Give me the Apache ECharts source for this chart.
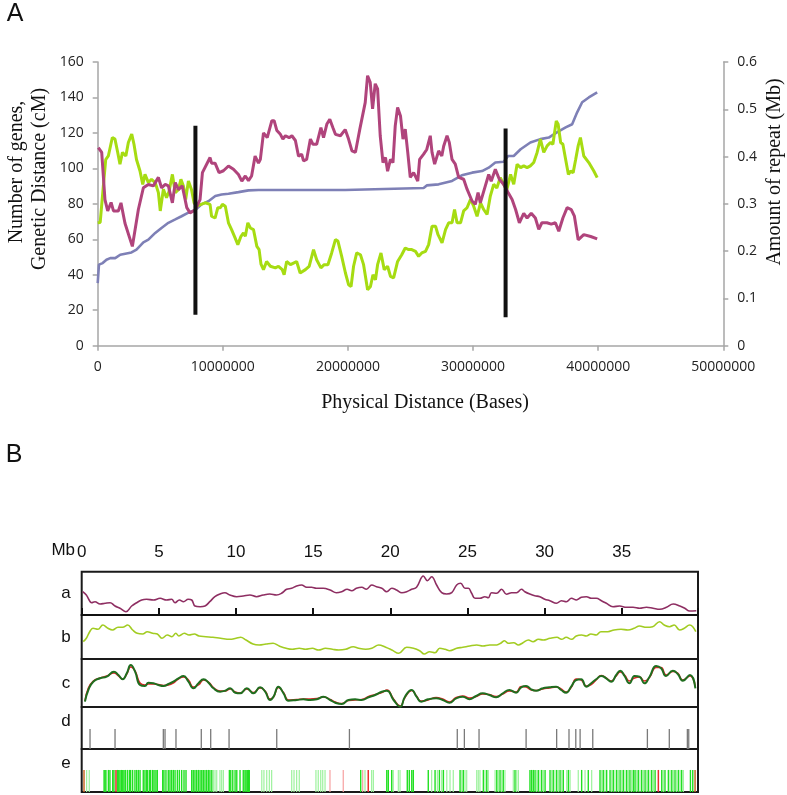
<!DOCTYPE html>
<html><head><meta charset="utf-8">
<script src="https://cdn.jsdelivr.net/npm/echarts@6/dist/echarts.min.js"></script>
<style>html,body{margin:0;padding:0;background:#fff}#c{width:787px;height:795px}</style>
</head><body><div id="c"></div>
<script>
// ---------- Panel A data (x in Mb of physical distance) ----------
const physTickLabels = ['0','10000000','20000000','30000000','40000000','50000000'];
const leftTickMax = 160, rightTickMax = 0.6;
const geneticDistance = [[0,35.3],[0.1,45.7],[0.4,46.6],[0.7,48.5],[1.0,49.4],[1.4,49.4],[1.8,51.3],[2.2,51.9],[2.7,52.6],[3.1,54.2],[3.65,58.3],[4.05,59.8],[4.6,63.6],[5.1,66.4],[5.65,69.3],[6.2,71.2],[6.7,73],[7.25,75],[7.8,76.5],[8.3,79.7],[8.85,81.5],[9.4,84.4],[9.9,85.3],[10.45,85.7],[11.25,86.6],[12.05,87.6],[12.85,87.8],[19.78,87.8],[19.85,88.9],[26.05,88.9],[26.3,90.4],[27.25,91],[28.32,92.9],[29.1,96.1],[29.92,97.6],[30.72,98.5],[31.25,100.4],[31.78,103.3],[32.45,103.7],[32.8,107],[33.25,107],[33.8,110.8],[34.58,114.6],[35.38,116.5],[36.05,117.4],[36.7,120.3],[37.4,123.1],[37.92,124.9],[38.32,131.6],[38.72,137.3],[39.25,140],[39.92,142.9]];
const geneCount = [[0,69.3],[0.2,69.5],[0.45,90],[0.64,105],[0.85,107],[1.0,108],[1.17,117.4],[1.38,116.5],[1.6,109],[1.78,102.3],[1.98,109],[2.25,107],[2.45,114.6],[2.72,119.3],[2.9,113.6],[3.1,105],[3.38,98.5],[3.6,91],[3.78,96.6],[3.9,97.6],[4.05,92],[4.3,93.8],[4.6,92],[4.85,86.3],[5.0,76],[5.25,88.2],[5.5,83.4],[5.7,87],[5.97,96.6],[6.2,86.3],[6.45,88],[6.65,93.8],[6.85,90],[7.03,82.5],[7.25,92.9],[7.5,88],[7.7,80.6],[7.9,78.7],[8.58,80.6],[8.98,79.7],[9.1,73],[9.38,72],[9.6,77.8],[9.8,77.8],[9.97,79.7],[10.2,78.7],[10.45,69.3],[10.7,65.5],[10.98,60.8],[11.2,57],[11.45,61.7],[11.65,63.6],[11.8,61.7],[12.0,69.3],[12.2,66.4],[12.45,65.5],[12.72,56],[12.9,54.2],[13.05,46],[13.25,42.9],[13.5,47.5],[13.8,44.8],[14.2,43.9],[14.45,44.8],[14.75,42.9],[14.9,40],[15.1,47.5],[15.4,45.7],[15.65,46.6],[15.9,47.5],[16.18,41],[16.6,42.9],[16.9,44.8],[17.25,54.2],[17.5,48.5],[17.84,43.9],[18.1,45.7],[18.4,45.7],[18.7,52.3],[19.0,59.8],[19.2,59],[19.5,50.4],[19.8,41],[20.05,34.4],[20.25,33.4],[20.45,44.8],[20.7,52.3],[21.0,51.3],[21.25,45.7],[21.57,31.5],[21.8,33.4],[22.0,40],[22.2,37.2],[22.37,45.7],[22.64,52.3],[22.9,42.9],[23.17,44.8],[23.4,39.1],[23.65,38.2],[23.97,47.5],[24.3,51.3],[24.58,55.1],[24.85,54.2],[25.1,54.2],[25.4,53.2],[25.65,50.4],[25.9,52.3],[26.2,53.2],[26.45,57],[26.72,67.4],[27.0,67.4],[27.2,62.6],[27.52,58],[27.8,65.5],[28.05,69.3],[28.32,69.3],[28.52,76.8],[28.72,69.3],[29.0,69.3],[29.25,76],[29.52,77.8],[29.8,82.5],[30.05,78.7],[30.32,73],[30.6,80.6],[30.85,76.8],[31.12,74],[31.38,84.4],[31.65,91],[31.9,89],[32.18,94.8],[32.45,91],[32.7,88],[33.0,96.6],[33.25,91],[33.52,102.3],[33.8,100.4],[34.05,101.4],[34.32,100.4],[34.58,101.4],[34.85,103.3],[35.12,109],[35.38,116.5],[35.65,109],[35.92,112.7],[36.18,114.6],[36.38,113.6],[36.65,126.8],[36.8,124.9],[37.0,114.6],[37.18,113.6],[37.4,105],[37.62,96.6],[37.8,98.5],[38.0,97.6],[38.2,105],[38.4,112.7],[38.58,117.4],[38.85,107],[39.25,103.3],[39.65,98.5],[39.92,94.8]];
const repeatMb = [[0.05,0.419],[0.32,0.409],[0.58,0.309],[0.8,0.285],[1.07,0.303],[1.26,0.285],[1.65,0.285],[1.86,0.302],[2.18,0.259],[2.77,0.210],[3.25,0.288],[3.65,0.334],[4.05,0.341],[4.45,0.338],[4.85,0.356],[5.1,0.334],[5.4,0.341],[5.65,0.338],[5.97,0.302],[6.2,0.345],[6.45,0.330],[6.76,0.338],[7.12,0.292],[7.38,0.281],[7.78,0.287],[8.18,0.309],[8.37,0.366],[8.98,0.398],[9.1,0.386],[9.38,0.386],[9.7,0.366],[10.05,0.370],[10.45,0.380],[10.85,0.373],[11.25,0.362],[11.52,0.348],[11.8,0.359],[12.05,0.349],[12.3,0.359],[12.58,0.401],[12.85,0.386],[13.0,0.394],[13.25,0.450],[13.55,0.440],[13.92,0.476],[14.1,0.476],[14.32,0.455],[14.6,0.447],[14.8,0.437],[15.0,0.444],[15.3,0.440],[15.52,0.444],[15.8,0.434],[16.05,0.401],[16.3,0.405],[16.45,0.391],[16.7,0.394],[17.0,0.437],[17.2,0.426],[17.5,0.426],[17.84,0.461],[18.05,0.440],[18.32,0.469],[18.55,0.479],[18.8,0.461],[19.0,0.447],[19.4,0.444],[19.78,0.457],[20.05,0.437],[20.32,0.412],[20.6,0.409],[20.8,0.437],[20.95,0.458],[21.1,0.454],[21.38,0.514],[21.57,0.571],[21.78,0.557],[21.97,0.501],[22.18,0.554],[22.37,0.543],[22.58,0.444],[22.8,0.387],[23.0,0.398],[23.17,0.369],[23.4,0.394],[23.6,0.387],[23.78,0.465],[23.97,0.504],[24.2,0.486],[24.4,0.437],[24.58,0.458],[24.78,0.409],[24.98,0.356],[25.25,0.366],[25.4,0.362],[25.58,0.348],[25.73,0.394],[26.05,0.405],[26.3,0.415],[26.45,0.412],[26.58,0.444],[26.72,0.409],[26.93,0.384],[27.25,0.412],[27.5,0.401],[27.65,0.422],[27.92,0.444],[28.1,0.430],[28.32,0.394],[28.58,0.384],[28.85,0.356],[29.25,0.352],[29.52,0.331],[29.92,0.306],[30.18,0.299],[30.4,0.324],[30.58,0.302],[30.98,0.338],[31.25,0.362],[31.45,0.348],[31.78,0.373],[32.1,0.352],[32.45,0.341],[32.8,0.324],[33.12,0.309],[33.4,0.288],[33.7,0.260],[34.05,0.280],[34.32,0.270],[34.65,0.280],[34.98,0.270],[35.25,0.246],[35.5,0.260],[35.9,0.260],[36.25,0.257],[36.58,0.260],[36.85,0.242],[37.18,0.270],[37.52,0.292],[37.85,0.288],[38.1,0.274],[38.4,0.224],[38.85,0.235],[39.4,0.231],[39.92,0.226]];
// pericentromere boundary markers: position (Mb), lower and upper extent (left-axis units)
const boundaryPos = [7.81, 32.6];
const boundaryLow = [17.4, 16];
const boundaryHigh = [124, 122.5];

// ---------- Panel B data (x in Mb) ----------
const mbTickLabels = ['0','5','10','15','20','25','30','35'];
const trackLabels = ['a','b','c','d','e'];
const trackA = [[0.06,23.3],[0.3,20],[0.65,12.3],[0.86,13.3],[1.19,11],[1.51,11.7],[1.84,12.3],[2.16,9],[2.48,6.7],[2.87,3.3],[3.24,9],[3.56,12.3],[3.89,15],[4.2,15.7],[4.65,15],[5.08,16.7],[5.5,15],[5.83,15.7],[6.05,12.3],[6.33,15],[6.6,13.3],[6.9,15.7],[7.13,15],[7.34,9],[7.67,8.3],[7.99,9],[8.3,13.3],[8.63,18.3],[8.96,21],[9.28,22.3],[9.6,20],[10.04,18.3],[10.47,19],[10.9,20],[11.33,18.3],[11.76,20],[12.19,21],[12.62,20],[12.95,21.7],[13.28,25.7],[13.6,26.7],[13.93,29],[14.25,30],[14.58,27.7],[14.9,27.7],[15.2,26.7],[15.65,26.7],[16.1,25],[16.5,22.3],[16.85,23.3],[17.2,25.7],[17.5,24.3],[17.8,26.7],[18.15,27.7],[18.45,25.7],[18.8,30],[19.1,28.3],[19.45,26.7],[19.77,23.3],[20.1,26.7],[20.4,25],[20.75,22.3],[21.06,23.3],[21.38,25.7],[21.7,27.7],[22.14,39],[22.4,34.3],[22.68,38.3],[23.0,30],[23.33,22.3],[23.65,21],[23.98,22.3],[24.3,30],[24.56,31.7],[24.84,26.7],[25.06,26.7],[25.27,21.7],[25.49,16.7],[25.81,16.7],[26.13,18.3],[26.35,17.3],[26.56,22.3],[26.89,21.7],[27.21,25.7],[27.53,20.7],[27.86,22.3],[28.18,22.3],[28.5,25.7],[28.72,23.3],[29.04,21],[29.36,19.3],[29.69,18.3],[30.01,15.7],[30.34,14.3],[30.77,11.7],[31.09,14.3],[31.41,13.3],[31.74,16.7],[32.06,15],[32.38,17.7],[32.71,18.3],[33.03,16.7],[33.35,16.7],[33.68,14.3],[34.0,11.7],[34.43,8.3],[34.86,9],[35.3,7.7],[35.73,7.7],[36.16,6.7],[36.6,7.7],[37.03,6.7],[37.46,5.7],[37.9,7.7],[38.33,11],[38.76,9],[39.08,6.7],[39.4,4],[39.83,4.3]];
const trackB = [[0.1,17.3],[0.3,20.7],[0.52,27.3],[0.73,30.7],[1.05,29.7],[1.37,34],[1.7,30.7],[2.0,29],[2.35,31.7],[2.65,31.7],[2.98,34],[3.3,29],[3.6,25.7],[3.95,25],[4.25,27.3],[4.6,25.7],[4.9,25],[5.2,20.7],[5.55,24],[5.85,22.3],[6.1,25.7],[6.3,23],[6.65,25.7],[6.95,24],[7.3,25],[7.6,23],[8.05,22.3],[8.5,21.7],[9.0,20.7],[9.6,19.7],[10.0,20.7],[10.3,21.7],[10.65,19],[11.1,15],[11.5,14],[11.95,15],[12.4,15.7],[12.8,13],[13.25,10.7],[13.65,9.7],[14.1,10.7],[14.5,9.7],[14.95,10.7],[15.35,9],[15.8,10.7],[16.25,9.7],[16.65,9],[17.1,9.7],[17.6,12.3],[17.95,10.7],[18.4,9.7],[18.8,10.7],[19.25,14],[19.7,11.7],[20.1,9],[20.55,5.7],[21.06,11.7],[21.5,10.7],[21.9,8.3],[22.2,5],[22.55,7.3],[22.9,6.3],[23.2,10.7],[23.55,9.7],[23.85,8.3],[24.3,10.7],[24.7,11.7],[25.15,13],[25.6,14],[26.0,13],[26.45,14],[26.9,14],[27.2,16.3],[27.4,18.3],[27.65,15.7],[28.0,16.3],[28.3,14],[28.6,16.3],[28.95,19],[29.25,17.3],[29.6,19.7],[29.9,19],[30.35,20.7],[30.8,21.7],[31.1,19.7],[31.4,21.7],[31.75,19.7],[32.05,23],[32.4,24],[32.7,23],[33.0,25],[33.35,24],[33.65,27.3],[34.1,27.3],[34.5,29],[34.95,29.7],[35.4,29],[35.8,30.7],[36.15,33],[36.6,31.7],[37.0,32.3],[37.45,37.3],[37.75,34],[38.1,32.3],[38.4,34],[38.75,29],[39.05,30.7],[39.4,34],[39.6,32.3],[39.8,27.3]];
const trackCPos = [0.21,0.43,0.75,1.19,1.62,2.09,2.38,2.66,2.92,3.18,3.46,3.78,4.1,4.32,4.65,4.97,5.3,5.62,5.94,6.27,6.6,6.92,7.24,7.57,7.9,8.22,8.54,8.97,9.3,9.62,9.95,10.27,10.7,11.13,11.56,11.89,12.21,12.43,12.75,13.08,13.4,13.94,14.37,14.8,15.24,15.67,16.1,16.43,16.86,17.29,17.72,18.15,18.59,19.02,19.45,19.78,20.21,20.64,20.95,21.38,21.7,22.0,22.45,22.97,23.4,23.83,24.27,24.7,25.13,25.56,25.99,26.42,26.86,27.29,27.72,28.15,28.48,28.8,29.13,29.45,29.88,30.31,30.75,31.07,31.39,31.72,32.05,32.37,32.7,33.02,33.34,33.67,33.99,34.31,34.64,34.9,35.18,35.5,35.83,36.15,36.47,36.8,37.23,37.55,37.87,38.31,38.63,38.95,39.42,39.77];
const trackCGreen = [5.3,17,25.3,28.7,30.3,35.3,32,27.7,33.7,42,35.3,22,21,24.3,23.7,22,21,23,25.3,28.7,31,25.3,18.7,23.7,27.7,24.3,18.7,15.3,16.3,18.7,14.3,13.7,18.7,13.7,19.7,15.3,7,10.3,20.3,13.7,6.3,7,7.7,7,7.7,10.3,7,4.3,3,7,7.7,7,9.7,12,15.3,16.3,7,0.3,10.3,17,10.3,5.3,7.7,8.7,7,4.3,8.7,10.3,7.7,11,13.7,12,9.7,13.7,17,14.3,19.7,21,17.7,16.3,18.7,19.7,20.3,17,14.3,20.3,27,27.7,20.3,23.7,27.7,31,28.7,25.3,32,36.3,31,23.7,31,30.3,23.7,30.3,41,38.7,31,36.3,33,26.3,32,18.7];
const trackCRed = [6,19,26,29,31,34,31,28,33,40,36,24,22,23,23,22.5,21.5,22,24,28,30,27,20,22,27,25,19.5,16,16,18,15,14,18,14.5,19,16,8,10,19.5,14.5,7,7.5,8,8,8.5,10,7.5,5,3.5,6.5,7,7.5,10.5,12.5,14.5,17,8,1,9.5,16.5,11,6,7,9.5,8,5,9.5,11,9,10.5,13,12.5,10.5,13,16,15,20.5,20,17,16.5,18,19,20,18,15,19.5,28,27,21,22.5,27,31.5,29,26,31,35,32,26,29,30,26,29.5,39.5,39.5,32,35.5,34,27,31,20];
const trackD = [0.54,2.16,5.29,5.4,6.11,7.75,8.36,9.55,12.64,17.35,24.34,24.8,25.75,28.8,30.78,31.58,32.02,32.3,33.12,36.66,38.08,39.25,39.34];
const trackEGreen = [1.45,1.51,1.57,1.73,1.83,2.01,2.09,2.31,2.40,2.48,2.57,2.66,2.74,2.83,2.96,3.09,3.17,3.30,3.45,3.56,3.67,3.78,3.99,4.10,4.21,4.25,4.38,4.47,4.60,4.69,4.81,4.90,5.25,5.33,5.46,5.61,5.72,5.83,5.94,6.05,6.20,6.33,6.48,6.63,6.76,7.13,7.23,7.34,7.45,7.56,7.67,7.78,7.88,7.99,8.10,8.21,8.31,8.43,9.57,9.66,9.79,9.94,10.05,10.26,10.47,10.58,10.65,10.73,10.80,10.86,18.08,19.77,19.87,20.09,21.10,21.23,21.39,21.49,22.46,22.90,23.18,23.44,24.52,24.73,26.03,26.25,26.90,27.11,27.32,28.08,29.05,29.16,29.27,29.38,29.59,29.81,30.03,30.35,30.56,30.78,31.00,31.21,31.54,32.40,32.83,33.59,33.80,34.02,34.24,34.45,34.67,34.89,35.10,35.32,35.53,35.75,35.86,36.07,36.29,36.51,36.72,36.94,37.16,37.59,37.80,38.02,38.24,38.45,38.67,38.88,39.45,39.60];
const trackELight = [0.32,0.49,8.53,8.64,8.75,8.96,9.07,9.18,11.67,11.81,11.99,12.16,12.31,13.61,13.76,13.93,14.10,15.18,15.33,15.49,15.62,15.77,18.36,18.79,18.90,20.19,20.52,20.63,22.68,23.05,23.33,23.66,23.87,24.08,24.63,24.84,24.95,25.60,25.70,25.81,26.14,26.35,26.79,27.00,27.22,27.43,27.97,28.19,28.30,29.49,29.70,29.92,30.46,30.67,30.89,31.11,31.43,31.65,32.18,32.62,33.05,33.70,33.91,34.35,34.56,34.78,35.00,35.21,35.43,35.64,35.97,36.18,36.40,36.62,36.83,37.05,37.69,38.13,38.34,38.56,38.78,38.99];
const trackERed = [2.22,18.57,37.37];
const trackEPink = [16.09,16.95,18.21];
const trackEOrange = [0.15,39.75];

// ---------- rendering ----------
const sans = '"Liberation Sans", Arial, sans-serif';
const tickFont = '"Open Sans", sans-serif';
const serif = '"Liberation Serif", "Times New Roman", serif';
const MBMAX = 39.94;

function presence(arr){ return arr.map(p => [p, 1]); }
function tickSeries(arr, xi, yi, color, width, z){
  return {
    type:'custom', xAxisIndex:xi, yAxisIndex:yi, z:z||3, silent:true,
    data: presence(arr),
    renderItem: function(params, api){
      const x = api.value(0);
      const p0 = api.coord([x, 0]);
      const p1 = api.coord([x, api.value(1)]);
      return {type:'line', shape:{x1:p0[0], y1:p0[1], x2:p1[0], y2:p1[1]}, style:{stroke:color, lineWidth:width}};
    }
  };
}

const grayAxis = {lineStyle:{color:'#a6a6a6', width:1.5}};
const hiddenX = (gi) => ({type:'value', gridIndex:gi, min:0, max:MBMAX, show:false});
const hiddenY = (gi, mx) => ({type:'value', gridIndex:gi, min:0, max:mx, show:false});

const chart = echarts.init(document.getElementById('c'));
chart.setOption({
  animation:false,
  backgroundColor:'#fff',
  grid:[
    {left:97.7, width:625.6, top:62, height:283.7},
    {left:81.7, width:616.3, top:571.7, height:43.3, show:true, borderColor:'#1a1a1a', borderWidth:2},
    {left:81.7, width:616.3, top:615, height:44, show:true, borderColor:'#1a1a1a', borderWidth:2},
    {left:81.7, width:616.3, top:659, height:48, show:true, borderColor:'#1a1a1a', borderWidth:2},
    {left:81.7, width:616.3, top:707, height:42, show:true, borderColor:'#1a1a1a', borderWidth:2},
    {left:81.7, width:616.3, top:749, height:43, show:true, borderColor:'#1a1a1a', borderWidth:2}
  ],
  xAxis:[
    {type:'value', gridIndex:0, min:0, max:50, interval:10, axisLine:grayAxis,
     axisTick:{show:true, length:5, lineStyle:{color:'#a6a6a6', width:1.5}}, splitLine:{show:false},
     axisLabel:{margin:14, fontSize:14, color:'#222', fontFamily:tickFont,
       formatter:(v)=>physTickLabels[Math.round(v/10)]}},
    {type:'value', gridIndex:1, position:'top', min:0, max:MBMAX, interval:5,
     axisLine:{lineStyle:{color:'#111', width:2}},
     axisTick:{show:true, length:7, lineStyle:{color:'#111', width:2}}, splitLine:{show:false},
     axisLabel:{margin:11, fontSize:17, color:'#111', fontFamily:sans,
       formatter:(v)=>{const s = mbTickLabels[Math.round(v/5)]; return s === undefined ? '' : s;}}},
    hiddenX(2), hiddenX(3), hiddenX(4), hiddenX(5)
  ],
  yAxis:[
    {type:'value', gridIndex:0, position:'left', min:0, max:leftTickMax, interval:20, axisLine:{show:true, ...grayAxis},
     axisTick:{show:true, length:5, lineStyle:{color:'#a6a6a6', width:1.5}}, splitLine:{show:false},
     axisLabel:{margin:14, fontSize:14, color:'#222', fontFamily:tickFont}},
    {type:'value', gridIndex:0, position:'right', min:0, max:rightTickMax, interval:0.1, axisLine:{show:true, ...grayAxis},
     axisTick:{show:true, length:5, lineStyle:{color:'#a6a6a6', width:1.5}}, splitLine:{show:false},
     axisLabel:{margin:14, fontSize:14, color:'#222', fontFamily:tickFont}},
    hiddenY(1, 43.3), hiddenY(2, 44), hiddenY(3, 48), hiddenY(4, 2.1), hiddenY(5, 1.95)
  ],
  series:[
    {type:'line', xAxisIndex:0, yAxisIndex:0, data:geneticDistance, showSymbol:false, symbol:'none',
     lineStyle:{color:'#7e80b6', width:2.6}, z:2},
    {type:'line', xAxisIndex:0, yAxisIndex:0, data:geneCount, showSymbol:false, symbol:'none',
     lineStyle:{color:'#a6dc12', width:3}, z:3},
    {type:'line', xAxisIndex:0, yAxisIndex:1, data:repeatMb, showSymbol:false, symbol:'none',
     lineStyle:{color:'#b0447c', width:3}, z:4},
    {type:'custom', xAxisIndex:0, yAxisIndex:0, z:5, silent:true,
     data: boundaryPos.map((p,i)=>[p, boundaryLow[i], boundaryHigh[i]]),
     encode:{x:0, y:[1,2]},
     renderItem:function(params, api){
       const a = api.coord([api.value(0), api.value(1)]);
       const b = api.coord([api.value(0), api.value(2)]);
       return {type:'line', shape:{x1:a[0], y1:a[1], x2:b[0], y2:b[1]}, style:{stroke:'#111', lineWidth:4}};
     }},
    {type:'line', xAxisIndex:1, yAxisIndex:2, data:trackA, showSymbol:false, symbol:'none', smooth:0.4,
     lineStyle:{color:'#8e2e62', width:1.6}},
    {type:'line', xAxisIndex:2, yAxisIndex:3, data:trackB, showSymbol:false, symbol:'none', smooth:0.4,
     lineStyle:{color:'#a2cc22', width:1.6}},
    {type:'line', xAxisIndex:3, yAxisIndex:4, data:trackCPos.map((p,i)=>[p, trackCRed[i]]), showSymbol:false, symbol:'none', smooth:0.5,
     lineStyle:{color:'#e0262a', width:1.5}, z:3},
    {type:'line', xAxisIndex:3, yAxisIndex:4, data:trackCPos.map((p,i)=>[p, trackCGreen[i]]), showSymbol:false, symbol:'none', smooth:0.5,
     lineStyle:{color:'#1f6e1f', width:2}, z:4},
    tickSeries(trackD, 4, 5, '#7a7a7a', 1.3),
    tickSeries(trackELight, 5, 6, '#9df29d', 1.2, 3),
    tickSeries(trackEGreen, 5, 6, '#22e022', 1.4, 4),
    tickSeries(trackEPink, 5, 6, '#f7a0a0', 1.2, 4),
    tickSeries(trackERed, 5, 6, '#e83030', 1.5, 5),
    tickSeries(trackEOrange, 5, 6, '#c86a2a', 1.5, 5)
  ],
  graphic:[
    {type:'text', x:15, y:14, style:{text:'A', font:'25px '+sans, fill:'#111', textAlign:'center', textVerticalAlign:'middle'}},
    {type:'text', x:14, y:455, style:{text:'B', font:'25px '+sans, fill:'#111', textAlign:'center', textVerticalAlign:'middle'}},
    {type:'text', x:17, y:172, rotation:Math.PI/2, style:{text:'Number of genes,', font:'20px '+serif, fill:'#111', textAlign:'center', textVerticalAlign:'middle'}},
    {type:'text', x:40, y:179, rotation:Math.PI/2, style:{text:'Genetic Distance (cM)', font:'20px '+serif, fill:'#111', textAlign:'center', textVerticalAlign:'middle'}},
    {type:'text', x:775, y:172, rotation:Math.PI/2, style:{text:'Amount of repeat (Mb)', font:'20px '+serif, fill:'#111', textAlign:'center', textVerticalAlign:'middle'}},
    {type:'text', x:425, y:403, style:{text:'Physical Distance (Bases)', font:'20px '+serif, fill:'#111', textAlign:'center', textVerticalAlign:'middle'}},
    {type:'text', x:75, y:550, style:{text:'Mb', font:'17px '+sans, fill:'#111', textAlign:'right', textVerticalAlign:'middle'}},
    {type:'text', x:66, y:593, style:{text:trackLabels[0], font:'17px '+sans, fill:'#111', textAlign:'center', textVerticalAlign:'middle'}},
    {type:'text', x:66, y:637, style:{text:trackLabels[1], font:'17px '+sans, fill:'#111', textAlign:'center', textVerticalAlign:'middle'}},
    {type:'text', x:66, y:683, style:{text:trackLabels[2], font:'17px '+sans, fill:'#111', textAlign:'center', textVerticalAlign:'middle'}},
    {type:'text', x:66, y:721, style:{text:trackLabels[3], font:'17px '+sans, fill:'#111', textAlign:'center', textVerticalAlign:'middle'}},
    {type:'text', x:66, y:763, style:{text:trackLabels[4], font:'17px '+sans, fill:'#111', textAlign:'center', textVerticalAlign:'middle'}}
  ]
});
</script>
</body></html>
